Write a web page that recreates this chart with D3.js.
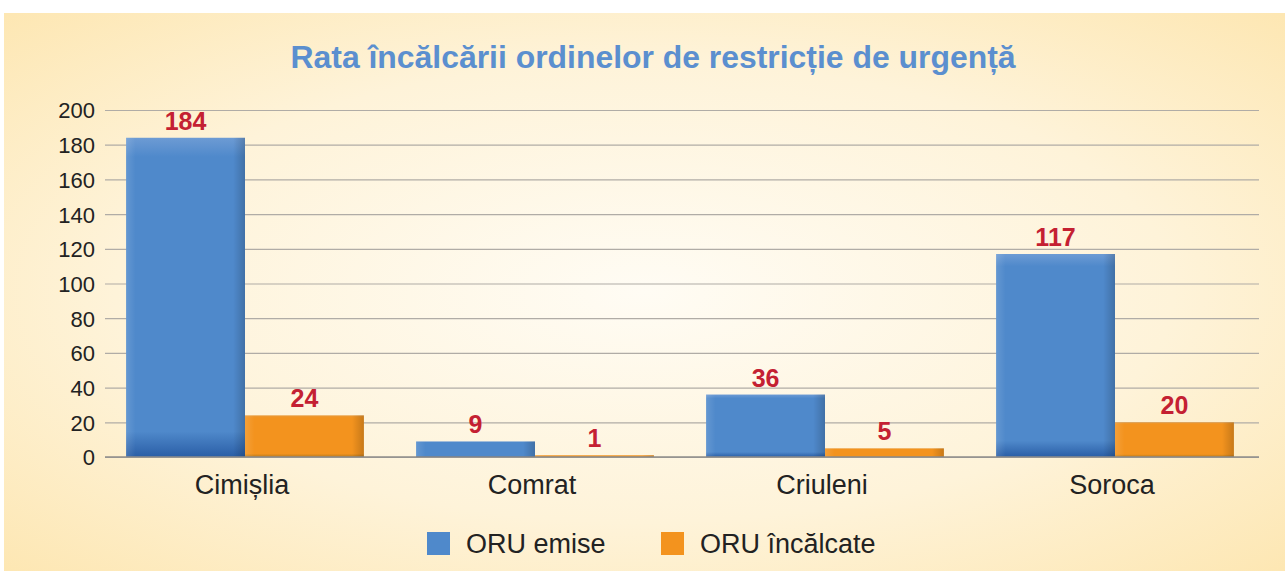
<!DOCTYPE html>
<html>
<head>
<meta charset="utf-8">
<script src="https://cdn.jsdelivr.net/npm/d3@7"></script>
<style>
  html, body { margin: 0; padding: 0; background: #fff; }
  svg { display: block; font-family: "Liberation Sans", Arial, sans-serif; }
  .axis path { display: none; }
  .axis line { stroke: #b0aca6; stroke-width: 1.2; }
  .axis text { fill: #222; font-size: 22px; }
</style>
</head>
<body>
<div id="chart"></div>
<script>
var categories = ["Cimișlia", "Comrat", "Criuleni", "Soroca"];
var seriesNames = ["ORU emise", "ORU încălcate"];
var emise = [184, 9, 36, 117];
var incalcate = [24, 1, 5, 20];
var yTicks = [0, 20, 40, 60, 80, 100, 120, 140, 160, 180, 200];
var title = "Rata încălcării ordinelor de restricție de urgență";

var W = 1285, H = 571;
var margin = {top: 110, right: 25, bottom: 114, left: 100};

var svg = d3.select("#chart").append("svg")
  .attr("width", W).attr("height", H);

var defs = svg.append("defs");

// panel background
var bg = defs.append("radialGradient").attr("id", "bg")
  .attr("cx", "50%").attr("cy", "50%").attr("r", "75%");
bg.append("stop").attr("offset", "0%").attr("stop-color", "#fffcf4");
bg.append("stop").attr("offset", "55%").attr("stop-color", "#fef3d9");
bg.append("stop").attr("offset", "100%").attr("stop-color", "#fde5ad");

// bar shading
function barGrad(id, light, mid, dark) {
  var g = defs.append("linearGradient").attr("id", id)
    .attr("x1", 0).attr("y1", 0).attr("x2", 0).attr("y2", 1);
  g.append("stop").attr("offset", "0%").attr("stop-color", light);
  g.append("stop").attr("offset", "6%").attr("stop-color", mid);
  g.append("stop").attr("offset", "92%").attr("stop-color", mid);
  g.append("stop").attr("offset", "100%").attr("stop-color", dark);
}
barGrad("gBlue", "#6d9bd4", "#4f89cb", "#2a5ea6");
barGrad("gOrange", "#e89a3a", "#f3931e", "#b87a1c");
var side = defs.append("linearGradient").attr("id", "gSide")
  .attr("x1", 0).attr("y1", 0).attr("x2", 1).attr("y2", 0);
side.append("stop").attr("offset", "0%").attr("stop-color", "#fff").attr("stop-opacity", 0.12);
side.append("stop").attr("offset", "8%").attr("stop-color", "#fff").attr("stop-opacity", 0);
side.append("stop").attr("offset", "90%").attr("stop-color", "#000").attr("stop-opacity", 0);
side.append("stop").attr("offset", "100%").attr("stop-color", "#000").attr("stop-opacity", 0.18);

svg.append("rect").attr("x", 4).attr("y", 13)
  .attr("width", W - 4).attr("height", H - 13)
  .attr("fill", "url(#bg)");

var x0 = d3.scaleBand()
  .domain(categories)
  .range([margin.left, margin.left + 1160])
  .paddingInner(0.18)
  .paddingOuter(0.09);

var x1 = d3.scaleBand()
  .domain(seriesNames)
  .range([0, x0.bandwidth()]);

var y = d3.scaleLinear()
  .domain([0, 200])
  .range([H - margin.bottom, margin.top]);

var color = d3.scaleOrdinal().domain(seriesNames).range(["#4f89cb", "#f3931e"]);
var grad = d3.scaleOrdinal().domain(seriesNames).range(["url(#gBlue)", "url(#gOrange)"]);

// y axis with gridlines
var yAxis = d3.axisLeft(y)
  .tickValues(yTicks)
  .tickSize(-(1259 - 105))
  .tickPadding(10);

svg.append("g")
  .attr("class", "axis")
  .attr("transform", "translate(105,0)")
  .call(yAxis)
  .call(function(g) { g.selectAll("text").attr("dy", "0.36em"); });

var rows = categories.map(function(c, i) {
  return {cat: c, values: [
    {name: seriesNames[0], value: emise[i]},
    {name: seriesNames[1], value: incalcate[i]}
  ]};
});

var group = svg.selectAll(".grp")
  .data(rows)
  .enter().append("g")
  .attr("class", "grp")
  .attr("transform", function(d) { return "translate(" + x0(d.cat) + ",0)"; });

var bar = group.selectAll(".bar")
  .data(function(d) { return d.values; })
  .enter().append("g").attr("class", "bar");

bar.append("rect")
  .attr("x", function(d) { return x1(d.name); })
  .attr("y", function(d) { return y(d.value); })
  .attr("width", x1.bandwidth())
  .attr("height", function(d) { return y(0) - y(d.value); })
  .attr("fill", function(d) { return grad(d.name); });

bar.append("rect")
  .attr("x", function(d) { return x1(d.name); })
  .attr("y", function(d) { return y(d.value); })
  .attr("width", x1.bandwidth())
  .attr("height", function(d) { return y(0) - y(d.value); })
  .attr("fill", "url(#gSide)");

bar.append("text")
  .attr("x", function(d) { return x1(d.name) + x1.bandwidth() / 2; })
  .attr("y", function(d) { return y(d.value) - 8; })
  .attr("text-anchor", "middle")
  .attr("fill", "#c42032")
  .attr("font-weight", "bold")
  .attr("font-size", "25px")
  .text(function(d) { return d.value; });

// baseline
svg.append("line")
  .attr("x1", 105).attr("x2", 1259)
  .attr("y1", y(0)).attr("y2", y(0))
  .attr("stroke", "#8e8c8a").attr("stroke-width", 1.5);

// category labels
svg.selectAll(".cat")
  .data(categories)
  .enter().append("text")
  .attr("class", "cat")
  .attr("x", function(d) { return x0(d) + x0.bandwidth() / 2 - 3; })
  .attr("y", y(0) + 37)
  .attr("text-anchor", "middle")
  .attr("fill", "#222")
  .attr("font-size", "27px")
  .text(function(d) { return d; });

// title
svg.append("text")
  .attr("x", 653).attr("y", 68)
  .attr("text-anchor", "middle")
  .attr("fill", "#5b8fcf")
  .attr("font-weight", "bold")
  .attr("font-size", "32px")
  .attr("textLength", 725)
  .attr("lengthAdjust", "spacingAndGlyphs")
  .text(title);

// legend
var legendX = [427, 661];
var legend = svg.selectAll(".leg")
  .data(seriesNames)
  .enter().append("g")
  .attr("class", "leg")
  .attr("transform", function(d, i) { return "translate(" + legendX[i] + ",532)"; });

legend.append("rect")
  .attr("width", 23).attr("height", 23)
  .attr("fill", function(d) { return color(d); });

legend.append("text")
  .attr("x", 39).attr("y", 21)
  .attr("fill", "#222")
  .attr("font-size", "27px")
  .text(function(d) { return d; });
</script>
</body>
</html>
